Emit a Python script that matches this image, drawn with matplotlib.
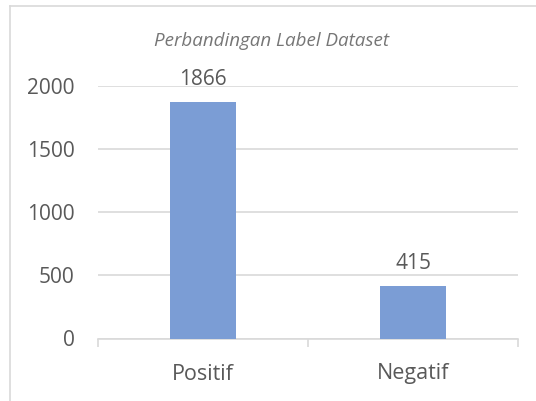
import matplotlib.pyplot as plt
from matplotlib.lines import Line2D

labels = ["Positif", "Negatif"]
counts = [1866, 415]
yticks = [0, 500, 1000, 1500, 2000]

plt.rcParams['font.family'] = ['Open Sans', 'DejaVu Sans']

fig = plt.figure(figsize=(5.36, 4.01), dpi=100)
ax = fig.add_axes([98 / 536, 62.5 / 401, 420 / 536, 253 / 401])

grid_c = "#d9d9d9"
text_c = "#595959"

ax.bar(range(len(labels)), counts, width=0.314, color="#7b9dd5", zorder=3)
for i, v in enumerate(counts):
    ax.annotate(str(v), (i, v), xytext=(0, 16.5), textcoords="offset points",
                ha="center", va="center", fontsize=15, color=text_c)

ax.set_xlim(-0.5, len(labels) - 0.5)
ax.set_ylim(0, 2000)
ax.set_yticks(yticks)
ax.set_yticklabels([str(t) for t in yticks], fontsize=15, color=text_c)
ax.set_xticks(range(len(labels)))
ax.set_xticklabels(labels, fontsize=15.5, color=text_c)
ax.tick_params(axis="y", length=0, pad=17)
ax.tick_params(axis="x", length=0, pad=18)
# small separators between categories
ax.set_xticks([-0.5, 0.5, 1.5], minor=True)
ax.tick_params(axis="x", which="minor", length=6, color=grid_c, width=1.2)

for s in ["top", "right", "left"]:
    ax.spines[s].set_visible(False)
ax.spines["bottom"].set_color(grid_c)
ax.spines["bottom"].set_linewidth(1.2)
ax.yaxis.grid(True, color=grid_c, linewidth=1.2, zorder=0)
ax.set_axisbelow(True)

fig.text(272 / 536, 1 - 41 / 401, "Perbandingan Label Dataset", ha="center", va="center",
         fontsize=13.5, style="italic", color="#767676")

# chart frame (cut off at right and bottom)
fig.add_artist(Line2D([9.5 / 536, 9.5 / 536], [0, 1 - 5.5 / 401], color=grid_c, lw=1.2))
fig.add_artist(Line2D([9.5 / 536, 1], [1 - 5.5 / 401, 1 - 5.5 / 401], color=grid_c, lw=1.2))

fig.savefig("out.png", dpi=100)
